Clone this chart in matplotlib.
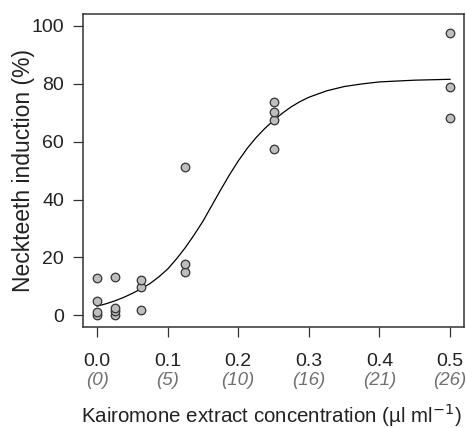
import numpy as np
from matplotlib import pyplot as plt

plt.rcParams['font.family'] = ['Liberation Sans', 'DejaVu Sans']

# observed replicates
conc = [0, 0, 0, 0,
        0.025, 0.025, 0.025, 0.025,
        0.0625, 0.0625, 0.0625,
        0.125, 0.125, 0.125,
        0.25, 0.25, 0.25, 0.25,
        0.5, 0.5, 0.5]
induction = [0, 1.1, 5.0, 13.0,
             0, 1.5, 2.7, 13.1,
             1.8, 9.8, 12.1,
             15.0, 17.6, 51.2,
             57.5, 67.5, 70.2, 73.8,
             68.2, 79.0, 97.6]

# fitted curve
fit_x = [0, 0.0125, 0.025, 0.0375, 0.05, 0.0625, 0.075, 0.0875, 0.1, 0.1125,
         0.125, 0.1375, 0.15, 0.1625, 0.175, 0.1875, 0.2, 0.2125, 0.225, 0.2375,
         0.25, 0.2625, 0.275, 0.2875, 0.3, 0.325, 0.35, 0.375, 0.4, 0.45, 0.5]
fit_y = [3.2, 4.0, 5.0, 6.2, 7.6, 9.2, 11.0, 13.3, 16.0, 19.5,
         23.4, 27.8, 32.5, 37.9, 43.3, 48.5, 53.3, 57.6, 61.3, 64.5,
         67.3, 69.8, 72.0, 73.8, 75.3, 77.5, 79.0, 79.9, 80.6, 81.2, 81.5]

xticks = [0.0, 0.1, 0.2, 0.3, 0.4, 0.5]
xtick_labels = ['0.0', '0.1', '0.2', '0.3', '0.4', '0.5']
xtick_sub = ['(0)', '(5)', '(10)', '(16)', '(21)', '(26)']
yticks = [0, 20, 40, 60, 80, 100]

fig = plt.figure(figsize=(4.66, 4.28), dpi=100)
ax = fig.add_axes([0.178, 0.236, 0.818, 0.731])

ax.plot(fit_x, fit_y, color='black', lw=0.9, zorder=2)
ax.scatter(conc, induction, s=38, facecolor='#bebebe', edgecolor='#333333',
           linewidths=0.9, zorder=3)

ax.set_xlim(-0.02, 0.52)
ax.set_ylim(-4, 104)
ax.set_yticks(yticks)
ax.set_xticks(xticks)
ax.set_xticklabels(xtick_labels)
ax.tick_params(axis='both', length=7.5, width=0.9, color='#333333',
               labelsize=14, labelcolor='#222222')
ax.tick_params(axis='x', pad=11)
ax.tick_params(axis='y', pad=6)
for s in ax.spines.values():
    s.set_linewidth(1.1)
    s.set_color('#333333')

for xt, lab in zip(xticks, xtick_sub):
    ax.text(xt, -0.17, lab, transform=ax.get_xaxis_transform(),
            ha='center', va='center', fontsize=13.5, style='italic',
            color='#707070')

ax.set_ylabel('Neckteeth induction (%)', fontsize=16.5, color='#222222')
ax.yaxis.set_label_coords(-0.155, 0.5)
ax.yaxis.label.set_va('center')
ax.set_xlabel('Kairomone extract concentration (µl ml$^{-1}$)', fontsize=14.8,
              color='#222222')
ax.xaxis.set_label_coords(0.495, -0.283)
ax.xaxis.label.set_va('center')

fig.savefig('out.png', dpi=100)
